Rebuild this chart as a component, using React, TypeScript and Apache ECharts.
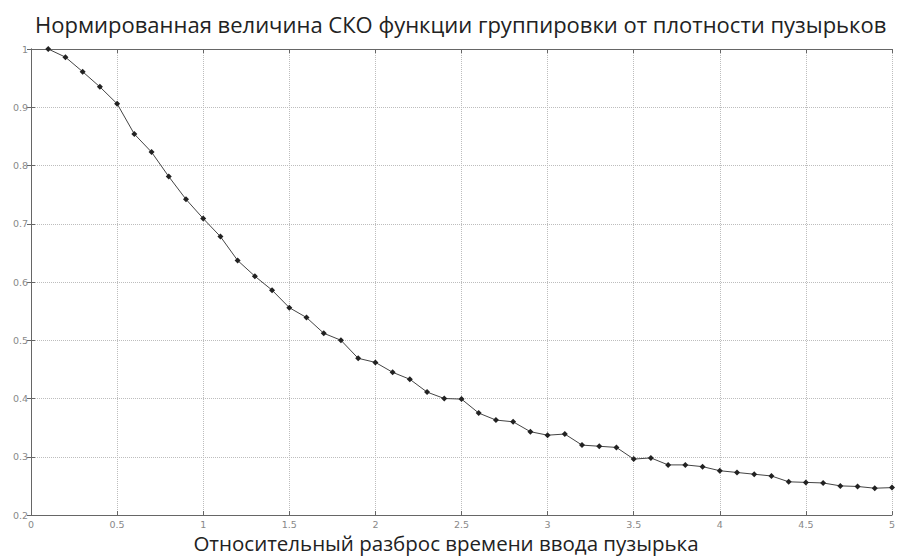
import React, { useEffect, useRef } from "react";
import * as echarts from "echarts";

const titleText = "Нормированная величина СКО функции группировки от плотности пузырьков";
const xAxisTitle = "Относительный разброс времени ввода пузырька";

const xValues = [
  0.1, 0.2, 0.3, 0.4, 0.5, 0.6, 0.7, 0.8, 0.9, 1.0,
  1.1, 1.2, 1.3, 1.4, 1.5, 1.6, 1.7, 1.8, 1.9, 2.0,
  2.1, 2.2, 2.3, 2.4, 2.5, 2.6, 2.7, 2.8, 2.9, 3.0,
  3.1, 3.2, 3.3, 3.4, 3.5, 3.6, 3.7, 3.8, 3.9, 4.0,
  4.1, 4.2, 4.3, 4.4, 4.5, 4.6, 4.7, 4.8, 4.9, 5.0,
];

const yValues = [
  1.0, 0.986, 0.961, 0.935, 0.906, 0.854, 0.823, 0.781, 0.742, 0.709,
  0.678, 0.637, 0.61, 0.586, 0.556, 0.539, 0.512, 0.5, 0.469, 0.462,
  0.445, 0.433, 0.411, 0.4, 0.399, 0.375, 0.363, 0.36, 0.343, 0.337,
  0.339, 0.32, 0.318, 0.316, 0.296, 0.298, 0.286, 0.286, 0.283, 0.276,
  0.273, 0.27, 0.267, 0.257, 0.256, 0.255, 0.25, 0.249, 0.246, 0.247,
];

const xTickLabels = ["0", "0.5", "1", "1.5", "2", "2.5", "3", "3.5", "4", "4.5", "5"];
const yTickLabels = ["0.2", "0.3", "0.4", "0.5", "0.6", "0.7", "0.8", "0.9", "1"];

export default function App() {
  const ref = useRef<HTMLDivElement>(null);

  useEffect(() => {
    document.body.style.margin = "0";
    if (!ref.current) return;
    const chart = echarts.init(ref.current, null, { renderer: "svg" });

    const xLabelFmt = (v: number) => {
      const i = Math.round(v / 0.5);
      return xTickLabels[i] ?? "";
    };
    const yLabelFmt = (v: number) => {
      const i = Math.round((v - 0.2) / 0.1);
      return yTickLabels[i] ?? "";
    };

    const frameLine = { show: true, lineStyle: { color: "#666", width: 1 } };
    const tick = { show: true, inside: true, length: 4, lineStyle: { color: "#666" } };
    const gridLine = {
      show: true,
      lineStyle: { color: "#bdbdbd", type: "dotted" as const, width: 1 },
    };

    chart.setOption({
      animation: false,
      backgroundColor: "#ffffff",
      title: {
        text: titleText,
        left: 30,
        top: 8,
        textStyle: {
          fontFamily: "Open Sans",
          fontSize: 22,
          fontWeight: "normal",
          color: "#222",
        },
      },
      graphic: [
        {
          type: "text",
          x: 446,
          y: 543,
          style: {
            text: xAxisTitle,
            fontFamily: "Open Sans",
            fontSize: 20.5,
            fill: "#222",
            textAlign: "center",
            textVerticalAlign: "middle",
          },
        },
      ],
      grid: { left: 31, right: 2, top: 49, bottom: 41, containLabel: false },
      xAxis: [
        {
          type: "value",
          min: 0,
          max: 5,
          interval: 0.5,
          axisLine: frameLine,
          axisTick: tick,
          axisLabel: {
            formatter: xLabelFmt,
            fontSize: 9.5,
            color: "#888",
            margin: 4,
            fontFamily: "DejaVu Sans",
          },
          splitLine: gridLine,
        },
        {
          type: "value",
          position: "top",
          min: 0,
          max: 5,
          interval: 0.5,
          axisLine: frameLine,
          axisTick: tick,
          axisLabel: { show: false },
          splitLine: { show: false },
        },
      ],
      yAxis: [
        {
          type: "value",
          min: 0.2,
          max: 1,
          interval: 0.1,
          axisLine: frameLine,
          axisTick: tick,
          axisLabel: {
            formatter: yLabelFmt,
            fontSize: 9.5,
            color: "#888",
            margin: 3,
            fontFamily: "DejaVu Sans",
          },
          splitLine: gridLine,
        },
        {
          type: "value",
          position: "right",
          min: 0.2,
          max: 1,
          interval: 0.1,
          axisLine: frameLine,
          axisTick: tick,
          axisLabel: { show: false },
          splitLine: { show: false },
        },
      ],
      series: [
        {
          type: "line",
          xAxisIndex: 0,
          yAxisIndex: 0,
          data: xValues.map((x, i) => [x, yValues[i]]),
          symbol: "diamond",
          symbolSize: 6,
          lineStyle: { color: "#444", width: 1 },
          itemStyle: { color: "#222" },
        },
      ],
    });

    return () => chart.dispose();
  }, []);

  return (
    <div
      ref={ref}
      style={{ position: "absolute", left: 0, top: 0, width: 898, height: 556, background: "#fff" }}
    />
  );
}
